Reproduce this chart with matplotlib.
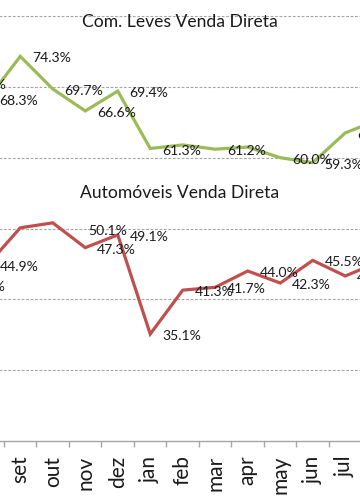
import matplotlib
matplotlib.use('Agg')
import matplotlib.pyplot as plt
from matplotlib.ticker import FixedLocator, NullFormatter

# ---- data ----
months = ['jul', 'ago', 'set', 'out', 'nov', 'dez', 'jan', 'feb', 'mar',
          'apr', 'may', 'jun', 'jul', 'ago']
com_leves = [70.6, 68.3, 74.3, 69.7, 66.6, 69.4, 61.3, 61.8, 61.2,
             61.5, 60.0, 59.3, 63.5, 65.3]
automoveis = [42.0, 44.9, 50.1, 50.8, 47.3, 49.1, 35.1, 41.3, 41.7,
              44.0, 42.3, 45.5, 43.3, 45.2]
com_leves_shown = [1, 1, 1, 1, 1, 1, 1, 0, 1, 0, 1, 1, 1, 0]
automoveis_shown = [1, 1, 1, 0, 1, 1, 1, 1, 1, 1, 1, 1, 1, 0]
title_top = 'Com. Leves Venda Direta'
title_bottom = 'Automóveis Venda Direta'

GREEN = '#9BBB59'
RED = '#C0504D'
TXT = '#1a1a1a'
GRID = '#A6A6A6'
FONT = 'Lato'

W, H = 360, 504
fig = plt.figure(figsize=(W / 100, H / 100), dpi=100)

# axes placement in pixels (chart is cropped on both sides)
px_per_cat = 32.5
x_left_px = 4 - 2.0 * px_per_cat
x_right_px = 4 + 12.0 * px_per_cat
y_bottom_px = 441
px_per_unit = 7.083
ymin, ymax = 20, 85
y_top_px = y_bottom_px - (ymax - ymin) * px_per_unit
ax = fig.add_axes([x_left_px / W, (H - y_bottom_px) / H,
                   (x_right_px - x_left_px) / W, (y_bottom_px - y_top_px) / H])
ax.set_xlim(-0.5, len(months) - 0.5)
ax.set_ylim(ymin, ymax)

xs = list(range(len(months)))
ax.plot(xs, com_leves, color=GREEN, lw=2.3, solid_joinstyle='miter', zorder=3)
ax.plot(xs, automoveis, color=RED, lw=2.3, solid_joinstyle='miter', zorder=3)

# grid
ax.set_yticks([30, 40, 50, 60, 70, 80])
ax.yaxis.set_major_formatter(NullFormatter())
ax.tick_params(axis='y', length=0)
ax.grid(axis='y', color=GRID, lw=0.8, linestyle=(0, (2.5, 1.5)))
for s in ['left', 'right', 'top']:
    ax.spines[s].set_visible(False)
ax.spines['bottom'].set_color(GRID)
ax.spines['bottom'].set_linewidth(1.0)

# x ticks: marks at boundaries, labels at centers
ax.set_xticks(xs)
ax.set_xticklabels(months, rotation=90, fontsize=15, family=FONT, color=TXT)
ax.tick_params(axis='x', which='major', length=0, pad=10.5)
ax.xaxis.set_minor_locator(FixedLocator([i + 0.5 for i in range(-1, len(months))]))
ax.tick_params(axis='x', which='minor', length=4.5, color=GRID, width=1.0)

# data labels
def lab(vals, shown, special=None):
    for i, (v, s) in enumerate(zip(vals, shown)):
        if not s:
            continue
        dx, dy = 8.6, -1.5
        if special and i in special:
            dx, dy = special[i]
        ax.annotate(f'{v:.1f}%', (i, v), xytext=(dx, dy), textcoords='offset points',
                    ha='left', va='center', fontsize=10.1, family=FONT, color=TXT,
                    zorder=4, annotation_clip=False)

lab(com_leves, com_leves_shown)
lab(automoveis, automoveis_shown, special={2: (49, -2)})

fig.text(0.5, (H - 27) / H, title_top, ha='center', va='baseline',
         fontsize=12.6, family=FONT, color=TXT)
fig.text(0.5, (H - 198) / H, title_bottom, ha='center', va='baseline',
         fontsize=12.6, family=FONT, color=TXT)

fig.savefig('out.png', dpi=100)
